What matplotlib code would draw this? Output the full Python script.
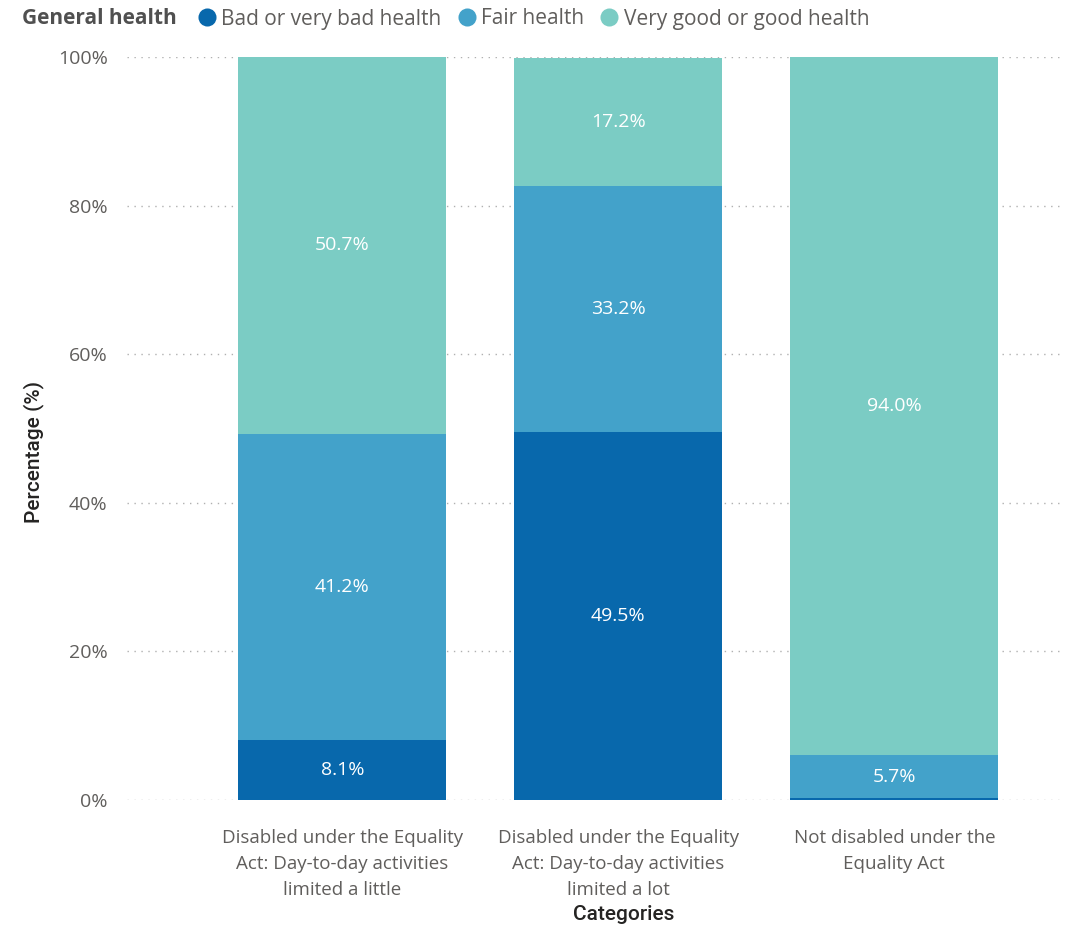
import matplotlib.pyplot as plt
from matplotlib.lines import Line2D
import numpy as np

categories = ['Disabled under the Equality\nAct: Day-to-day activities\nlimited a little',
              'Disabled under the Equality\nAct: Day-to-day activities\nlimited a lot',
              'Not disabled under the\nEquality Act']
series = ['Bad or very bad health', 'Fair health', 'Very good or good health']
bad = [8.1, 49.5, 0.3]
fair = [41.2, 33.2, 5.7]
good = [50.7, 17.2, 94.0]
colors = ['#0868AC', '#43A2CA', '#7BCCC4']

plt.rcParams['font.family'] = ['Open Sans', 'DejaVu Sans']

fig = plt.figure(figsize=(10.71, 9.3), dpi=100)
ax = fig.add_axes([0.1186, 0.1398, 0.8711, 0.7989])

x = np.arange(len(categories))
width = 0.754
bottom = np.zeros(len(categories))
for vals, col in zip([bad, fair, good], colors):
    vals = np.array(vals)
    ax.bar(x, vals, width, bottom=bottom, color=col, edgecolor='none', zorder=2)
    for xi, b, v in zip(x, bottom, vals):
        if v >= 1:
            ax.text(xi, b + v / 2, f'{v:.1f}%', ha='center', va='center',
                    color='white', fontsize=14, zorder=3)
    bottom += vals

ax.set_xlim(-0.78, 2.6)
ax.set_ylim(0, 100)
ax.set_yticks(np.arange(0, 101, 20))
ax.set_yticklabels([f'{t}%' for t in range(0, 101, 20)])
ax.set_xticks(x)
ax.set_xticklabels(categories, fontsize=13.5, linespacing=1.55)
ax.tick_params(axis='both', length=0, colors='#605E5C')
ax.tick_params(axis='y', labelsize=14, pad=14)
ax.tick_params(axis='x', pad=21)
ax.yaxis.grid(True, linestyle=(0, (1, 4)), color='#B0B0B0', linewidth=1, zorder=0)
for s in ax.spines.values():
    s.set_visible(False)

ax.set_ylabel('Percentage (%)', fontsize=15, fontfamily='Roboto', fontweight='medium',
              color='#252423')
ax.set_xlabel('Categories', fontsize=15, fontfamily='Roboto', fontweight='medium',
              color='#252423')
ax.yaxis.set_label_coords(-0.089, 0.468)
ax.xaxis.set_label_coords(0.532, -0.141)

fig.text(22 / 1071, 1 - 18 / 930, 'General health', fontsize=15, fontweight='bold',
         color='#505050', ha='left', va='center')
handles = [Line2D([], [], marker='o', linestyle='none', markersize=13,
                  markerfacecolor=c, markeredgecolor='none') for c in colors]
fig.legend(handles, series, loc='center left', bbox_to_anchor=(186 / 1071, 1 - 19 / 930),
           ncol=3, frameon=False, fontsize=15, handletextpad=-0.3, columnspacing=0.2,
           borderpad=0, borderaxespad=0, labelcolor='#605E5C')

fig.savefig('out.png', dpi=100)
